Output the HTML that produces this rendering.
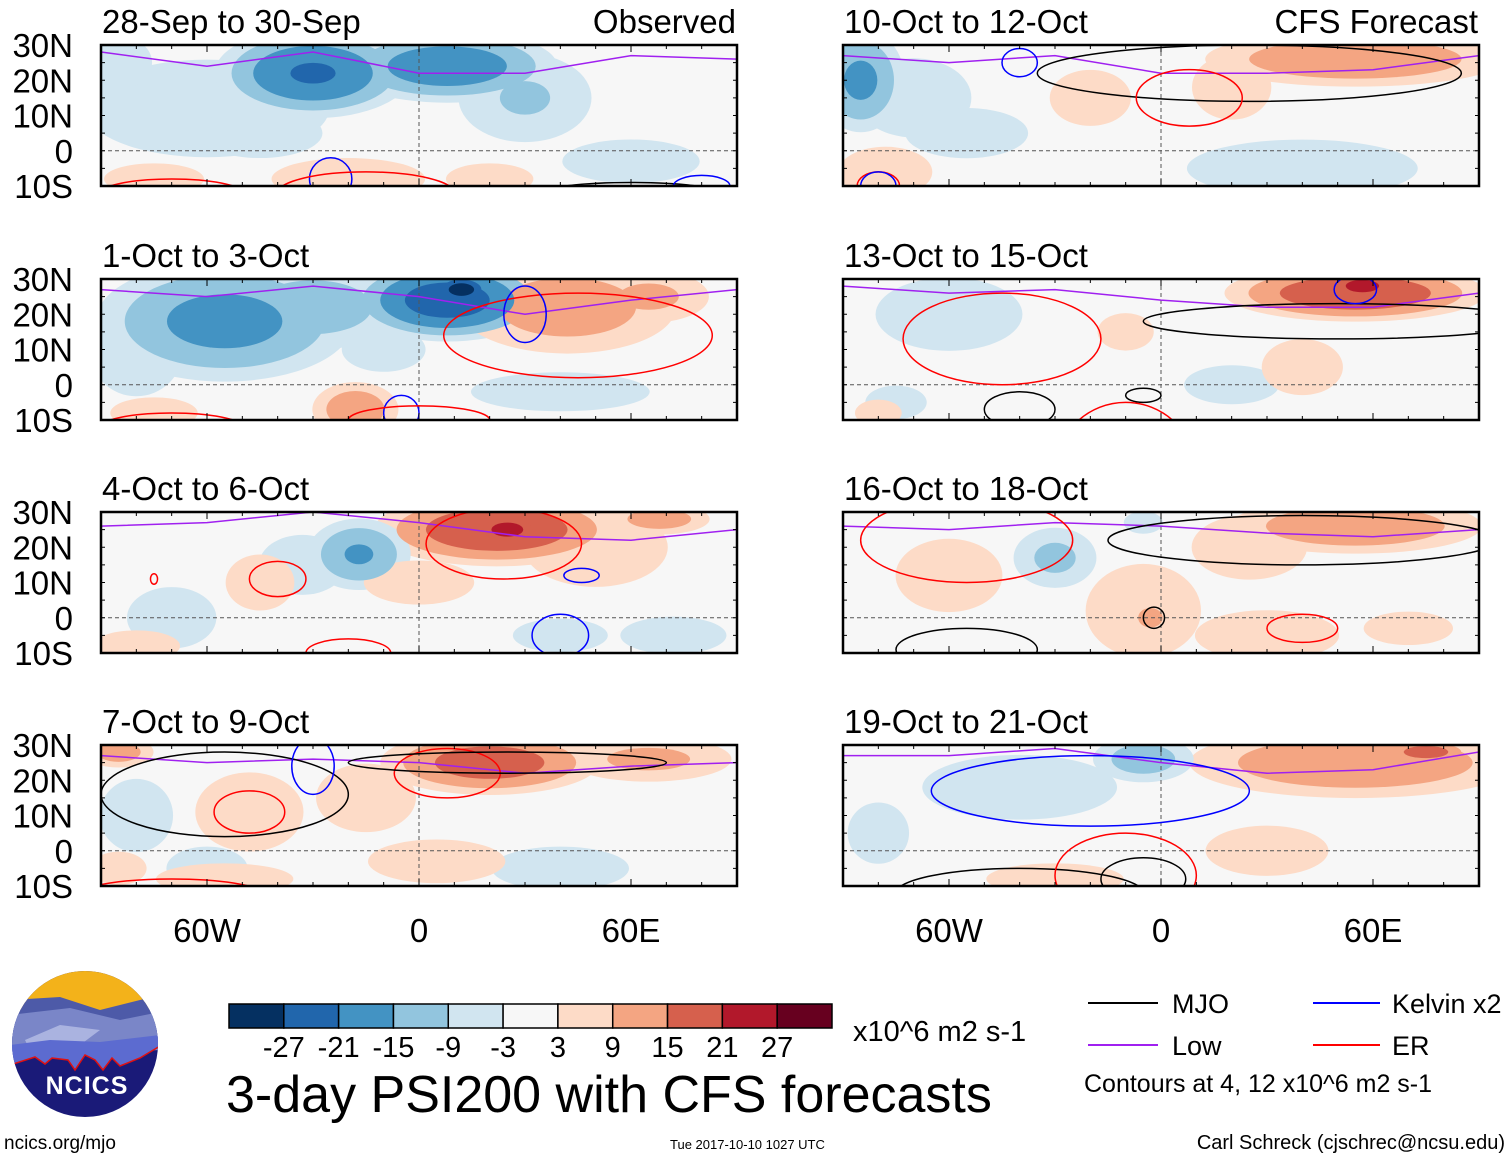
<!DOCTYPE html>
<html><head><meta charset="utf-8">
<style>
html,body{margin:0;padding:0;background:#fff;}
svg{display:block;font-family:"Liberation Sans",sans-serif;}
</style></head>
<body>
<svg id="chart" width="1510" height="1159" viewBox="0 0 1510 1159" xmlns="http://www.w3.org/2000/svg">
<defs id="defs"></defs>
<g id="panels"></g>
<g font-size="33" text-anchor="middle" fill="#000" id="lonlabels"></g>
<g>
  <clipPath id="logoclip"><circle cx="85" cy="1044" r="73"/></clipPath>
  <g clip-path="url(#logoclip)">
    <rect x="10" y="970" width="150" height="150" fill="#1a1a78"/>
    <rect x="10" y="970" width="150" height="40" fill="#f3b21a"/>
    <path d="M10 1000 L60 997 L100 1010 L160 995 L160 1040 L10 1040Z" fill="#4d5aa8"/>
    <path d="M10 1015 L70 1008 L120 1020 L160 1012 L160 1050 L10 1055Z" fill="#7a86c8"/>
    <path d="M25 1040 L60 1025 L100 1030 L80 1045 L30 1050Z" fill="#aab3e0"/>
    <path d="M10 1045 L50 1040 L100 1042 L160 1035 L160 1046 L140 1058 L120 1066 L112 1058 L103 1070 L95 1060 L85 1055 L75 1070 L68 1060 L52 1058 L45 1064 L35 1057 L10 1065Z" fill="#5c6bd0"/>
    <path d="M10 1065 L35 1057 L45 1064 L52 1058 L68 1060 L75 1070 L85 1055 L95 1060 L103 1070 L112 1058 L120 1066 L140 1058 L160 1046" fill="none" stroke="#e01010" stroke-width="1.5"/>
  </g>
  <text x="87" y="1094" font-size="25" font-weight="bold" fill="#fff" text-anchor="middle" letter-spacing="1">NCICS</text>
</g>
<text x="4" y="1149" font-size="19">ncics.org/mjo</text>
<g id="colorbar"></g>
<text x="853" y="1041" font-size="29">x10^6 m2 s-1</text>
<text x="226" y="1112" font-size="52">3-day PSI200 with CFS forecasts</text>
<text x="670" y="1149" font-size="13">Tue 2017-10-10 1027 UTC</text>
<text x="1505" y="1149" font-size="20" text-anchor="end">Carl Schreck (cjschrec@ncsu.edu)</text>
<g font-size="27">
  <line x1="1088" y1="1003" x2="1158" y2="1003" stroke="#000" stroke-width="2"/>
  <text x="1172" y="1013">MJO</text>
  <line x1="1088" y1="1045" x2="1158" y2="1045" stroke="#a020f0" stroke-width="2"/>
  <text x="1172" y="1055">Low</text>
  <line x1="1313" y1="1003" x2="1380" y2="1003" stroke="#0000ff" stroke-width="2"/>
  <text x="1392" y="1013">Kelvin x2</text>
  <line x1="1313" y1="1045" x2="1380" y2="1045" stroke="#ff0000" stroke-width="2"/>
  <text x="1392" y="1055">ER</text>
  <text x="1084" y="1092" font-size="25">Contours at 4, 12 x10^6 m2 s-1</text>
</g>
</svg>
<script>
const NS="http://www.w3.org/2000/svg";
const panelTitles=["28-Sep to 30-Sep","1-Oct to 3-Oct","4-Oct to 6-Oct","7-Oct to 9-Oct","10-Oct to 12-Oct","13-Oct to 15-Oct","16-Oct to 18-Oct","19-Oct to 21-Oct"];
const latTicks=[30,20,10,0,-10];
const latLabels=["30N","20N","10N","0","10S"];
const lonTicks=[-60,0,60];
const lonLabels=["60W","0","60E"];
const cbLevels=[-27,-21,-15,-9,-3,3,9,15,21,27];
const posColors=["#fddbc7","#f4a582","#d6604d","#b2182b","#67001f"];
const negColors=["#d1e5f0","#92c5de","#4393c3","#2166ac","#053061"];
const shadeLevels=[3,9,15,21,27];
// blobs: [lon, lat, lonRadius(deg), latRadius(deg), peak value]
const blobs0=[[-60,12,35,14,-8],[-30,22,24,11,-22],[8,24,27,9,-20],[30,15,18,12,-10],[60,-3,22,7,-6],[-20,-8,22,6,8],[-75,-8,16,5,6],[20,-8,14,5,6],[-85,25,10,8,-7],[-45,5,20,8,-6]];
const blobs1=[[-55,18,32,15,-18],[-30,22,24,11,-13],[8,24,24,10,-25],[12,27,8,4,-31],[42,22,28,12,13],[65,25,16,7,11],[-18,-7,11,7,14],[-80,10,13,13,-9],[40,-2,32,7,-5],[-75,-8,14,5,6],[-10,10,15,8,-5]];
const blobs2=[[22,25,30,9,21],[25,25,9,4,25],[50,20,20,11,9],[68,28,13,4,13],[-17,18,13,9,-16],[-33,15,13,9,-7],[-45,10,11,9,6],[-70,0,16,11,-5],[-80,-8,14,5,6],[72,-5,17,6,-6],[40,-5,17,6,-5],[0,10,25,10,4]];
const blobs3=[[20,25,27,8,19],[65,26,22,6,11],[-85,28,9,4,13],[-48,11,15,11,9],[-15,15,16,11,6],[-80,10,11,11,-7],[-60,-5,13,7,-6],[-55,-8,22,5,6],[40,-5,22,7,-6],[5,-3,22,7,6],[-85,-5,10,6,5]];
const blobs4=[[55,26,38,7,15],[20,18,11,9,9],[-85,20,11,13,-17],[-70,15,16,11,-9],[40,-5,32,8,-9],[-78,-6,13,7,9],[-20,15,13,9,6],[-55,5,22,9,-5]];
const blobs5=[[55,26,32,7,21],[57,28,8,3,27],[-10,15,9,6,6],[-60,20,22,11,-7],[-75,-5,11,6,-5],[20,0,17,7,-5],[40,5,13,9,6],[-80,-8,7,4,7]];
const blobs6=[[55,26,32,7,15],[25,20,16,9,9],[-5,2,16,13,9],[-3,0,5,4,13],[-60,12,16,11,7],[30,-5,20,7,9],[-30,17,11,8,-11],[-5,27,7,4,-5],[70,-3,16,6,5]];
const blobs7=[[55,25,42,9,15],[75,28,11,3,19],[-40,18,27,9,-9],[-5,26,13,6,-13],[-30,-8,22,5,6],[30,0,22,9,5],[-80,5,11,11,-5]];
const blobsAll=[blobs0,blobs1,blobs2,blobs3,blobs4,blobs5,blobs6,blobs7];
// contour ellipses: [type, lon, lat, lonRadius, latRadius]
const cont0=[["kelvin",-25,-8,6,6],["er",-15,-12,25,6],["er",-70,-12,20,4],["mjo",60,-12,25,3],["kelvin",80,-10,8,3]];
const cont1=[["er",45,14,38,12],["kelvin",-5,-8,5,5],["kelvin",30,20,6,8],["er",0,-10,20,4],["er",-70,-12,20,4]];
const cont2=[["er",24,21,22,10],["kelvin",46,12,5,2],["er",-40,11,8,5],["er",-75,11,1,1.5],["kelvin",40,-5,8,6],["er",-20,-10,12,4]];
const cont3=[["mjo",-55,16,35,12],["er",-48,11,10,6],["er",8,22,15,7],["mjo",25,25,45,3],["kelvin",-30,24,6,8],["er",-70,-12,25,4]];
const cont4=[["mjo",25,22,60,8],["er",8,15,15,8],["kelvin",-40,25,5,4],["er",-80,-10,6,4],["kelvin",-80,-10,5,4]];
const cont5=[["er",-45,13,28,13],["mjo",50,18,55,5],["kelvin",55,27,6,4],["mjo",-5,-3,5,2],["mjo",-40,-7,10,5],["er",-10,-25,20,20]];
const cont6=[["mjo",40,22,55,7],["er",40,-3,10,4],["mjo",-55,-9,20,6],["mjo",-2,0,3,3],["er",-55,22,30,12]];
const cont7=[["mjo",-40,-12,35,7],["er",-10,-7,20,12],["mjo",-5,-8,12,6],["kelvin",-20,17,45,10]];
const contAll=[cont0,cont1,cont2,cont3,cont4,cont5,cont6,cont7];
// Low (purple) contour lats at lon -90,-60,-30,0,30,60,90
const lowLons=[-90,-60,-30,0,30,60,90];
const low0=[28,24,28,22,22,27,26];
const low1=[27,25,28,25,20,24,27];
const low2=[26,27,30,27,23,22,25];
const low3=[27,25,26,25,22,24,25];
const low4=[27,25,27,22,22,23,27];
const low5=[28,26,27,24,22,22,26];
const low6=[26,25,27,26,24,23,25];
const low7=[27,27,29,25,22,23,28];
const lowAll=[low0,low1,low2,low3,low4,low5,low6,low7];
const colors={mjo:"#000",kelvin:"#0000ff",er:"#ff0000",low:"#a020f0"};

const panelX=[101,101,101,101,843,843,843,843];
const panelY=[45,279,512,745,45,279,512,745];
const PW=636,PH=141;
const panelsG=document.getElementById("panels");
const defs=document.getElementById("defs");
function mk(tag,attrs,parent){const e=document.createElementNS(NS,tag);for(const k in attrs)e.setAttribute(k,attrs[k]);if(parent)parent.appendChild(e);return e;}

for(let p=0;p<8;p++){
  const x0=panelX[p],y0=panelY[p];
  const xs=lon=>x0+(lon+90)*PW/180;
  const ys=lat=>y0+(30-lat)*PH/40;
  const g=mk("g",{},panelsG);
  
  
  const cp=mk("clipPath",{id:"cp"+p},defs);
  mk("rect",{x:x0,y:y0,width:PW,height:PH},cp);
  const inner=mk("g",{"clip-path":"url(#cp"+p+")"},g);
  mk("rect",{x:x0,y:y0,width:PW,height:PH,fill:"#f7f7f7"},inner);
  const bl=blobsAll[p];
  for(let li=0;li<shadeLevels.length;li++){
    const L=shadeLevels[li];
    for(const b of bl){
      const v=Math.abs(b[4]);
      if(v<=L)continue;
      const s=Math.sqrt(1-L/v)*1.25;
      const e=mk("ellipse",{cx:xs(b[0]),cy:ys(b[1]),rx:b[2]*s*PW/180,ry:b[3]*s*PH/40,fill:b[4]>0?posColors[li]:negColors[li]},inner);
      
      
    }
  }
  mk("line",{x1:x0,y1:ys(0),x2:x0+PW,y2:ys(0),stroke:"#555","stroke-width":1,"stroke-dasharray":"4,3"},inner);
  mk("line",{x1:xs(0),y1:y0,x2:xs(0),y2:y0+PH,stroke:"#555","stroke-width":1,"stroke-dasharray":"4,3"},inner);
  const lw=lowAll[p];
  let d="";
  lw.forEach((la,i)=>{d+=(i?"L":"M")+xs(lowLons[i]).toFixed(1)+" "+ys(la).toFixed(1)+" ";});
  const pl=mk("path",{d:d,fill:"none",stroke:colors.low,"stroke-width":1.5},inner);
  
  
  for(const c of contAll[p]){
    const e=mk("ellipse",{cx:xs(c[1]),cy:ys(c[2]),rx:c[3]*PW/180,ry:c[4]*PH/40,fill:"none",stroke:colors[c[0]],"stroke-width":1.5},inner);
    
    
  }
  mk("rect",{x:x0,y:y0,width:PW,height:PH,fill:"none",stroke:"#000","stroke-width":2.5},g);
  for(let lon=-90;lon<=90;lon+=10){const len=lon%60===0?7:4;
    mk("line",{x1:xs(lon),y1:y0,x2:xs(lon),y2:y0+len,stroke:"#000","stroke-width":1},g);
    mk("line",{x1:xs(lon),y1:y0+PH,x2:xs(lon),y2:y0+PH-len,stroke:"#000","stroke-width":1},g);}
  for(let lat=-10;lat<=30;lat+=5){
    mk("line",{x1:x0,y1:ys(lat),x2:x0+4,y2:ys(lat),stroke:"#000","stroke-width":1},g);
    mk("line",{x1:x0+PW,y1:ys(lat),x2:x0+PW-4,y2:ys(lat),stroke:"#000","stroke-width":1},g);}
  const t=mk("text",{x:x0+1,y:y0-12,"font-size":33},g);
  t.textContent=panelTitles[p];
  
  
  if(p===0||p===4){
    const h=mk("text",{x:x0+PW-1,y:y0-12,"font-size":33,"text-anchor":"end"},g);
    h.textContent=p===0?"Observed":"CFS Forecast";
    
    
  }
  if(p<4){
    latTicks.forEach((lat,i)=>{
      const tl=mk("text",{x:73,y:ys(lat)+12,"font-size":33,"text-anchor":"end"},g);
      tl.textContent=latLabels[i];
      
      
    });
  }
}
const lg=document.getElementById("lonlabels");
[101,843].forEach(x0=>{
  lonTicks.forEach((lon,i)=>{
    const t=mk("text",{x:x0+(lon+90)*PW/180,y:942},lg);
    t.textContent=lonLabels[i];
    
    
  });
});
const cb=document.getElementById("colorbar");
const cbColors=negColors.slice().reverse().concat(["#f7f7f7"]).concat(posColors);
const cbX0=229,cbW=603/11;
cbColors.forEach((c,i)=>{
  const r=mk("rect",{x:cbX0+i*cbW,y:1004,width:cbW,height:24,fill:c,stroke:"#000","stroke-width":1.5},cb);
  
  
});
cbLevels.forEach((v,i)=>{
  const t=mk("text",{x:cbX0+(i+1)*cbW,y:1057,"font-size":29,"text-anchor":"middle"},cb);
  t.textContent=v;
  
  
});
</script>
</body></html>
